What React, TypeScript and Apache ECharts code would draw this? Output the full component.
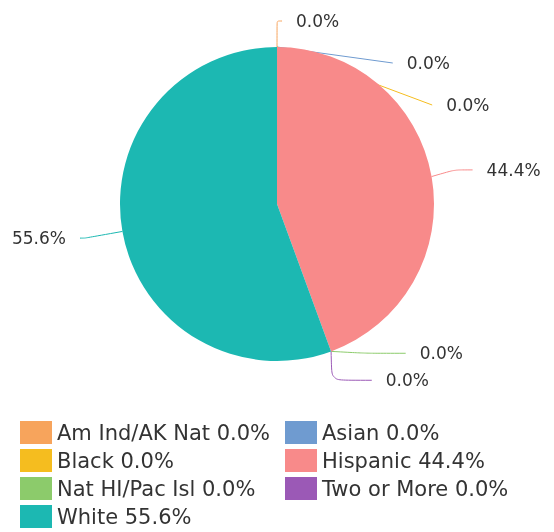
import React, { useEffect, useRef } from "react";
import * as echarts from "echarts";

const categories = ["Am Ind/AK Nat", "Asian", "Black", "Hispanic", "Nat HI/Pac Isl", "Two or More", "White"];
const values = [0.0, 0.0, 0.0, 44.4, 0.0, 0.0, 55.6];
const colors = ["#f7a45c", "#6f9bd0", "#f5bd1f", "#f88a8a", "#8ccb6b", "#9b59b6", "#1cb8b2"];
const leftLegend = ["Am Ind/AK Nat", "Black", "Nat HI/Pac Isl", "White"];
const rightLegend = ["Asian", "Hispanic", "Two or More"];
const bottomCrowded = ["Nat HI/Pac Isl", "Two or More"];

const fmt = (v: number) => v.toFixed(1) + "%";

export default function App() {
  const ref = useRef<HTMLDivElement>(null);
  useEffect(() => {
    if (!ref.current) return;
    const chart = echarts.init(ref.current, undefined, { renderer: "svg" });
    const lookup = (name: string) => values[categories.indexOf(name)];
    const legendBase = {
      orient: "vertical" as const,
      top: 416,
      height: 140,
      itemWidth: 32,
      itemHeight: 23,
      itemGap: 5,
      icon: "rect",
      textStyle: { fontFamily: "DejaVu Sans", fontSize: 21, lineHeight: 23, color: "#333" },
      formatter: (name: string) => name + " " + fmt(lookup(name)),
      selectedMode: false,
    };
    chart.setOption({
      animation: false,
      color: colors,
      legend: [
        { ...legendBase, left: 15, data: leftLegend },
        { ...legendBase, left: 280, data: rightLegend },
      ],
      series: [
        {
          type: "pie",
          center: [277, 204],
          radius: [0, 157],
          startAngle: 89.99,
          clockwise: true,
          avoidLabelOverlap: true,
          label: {
            show: true,
            fontFamily: "DejaVu Sans",
            fontSize: 17,
            lineHeight: 40,
            color: "#333",
            distanceToLabelLine: 14,
            formatter: (p: any) => fmt(p.value),
          },
          labelLine: { show: true, length: 38, length2: 5, smooth: 0.2 },
          data: categories.map((c, i) => {
            const crowded = bottomCrowded.includes(c);
            const extra = crowded
              ? { label: { lineHeight: 25 }, labelLine: { length: 2, length2: 40 } }
              : c === "Hispanic"
              ? { labelLine: { length: 38, length2: 18 } }
              : {};
            return { name: c, value: values[i], ...extra };
          }),
        },
      ],
    });
    return () => chart.dispose();
  }, []);
  return <div ref={ref} style={{ position: "fixed", left: 0, top: 0, width: 554, height: 532 }} />;
}
